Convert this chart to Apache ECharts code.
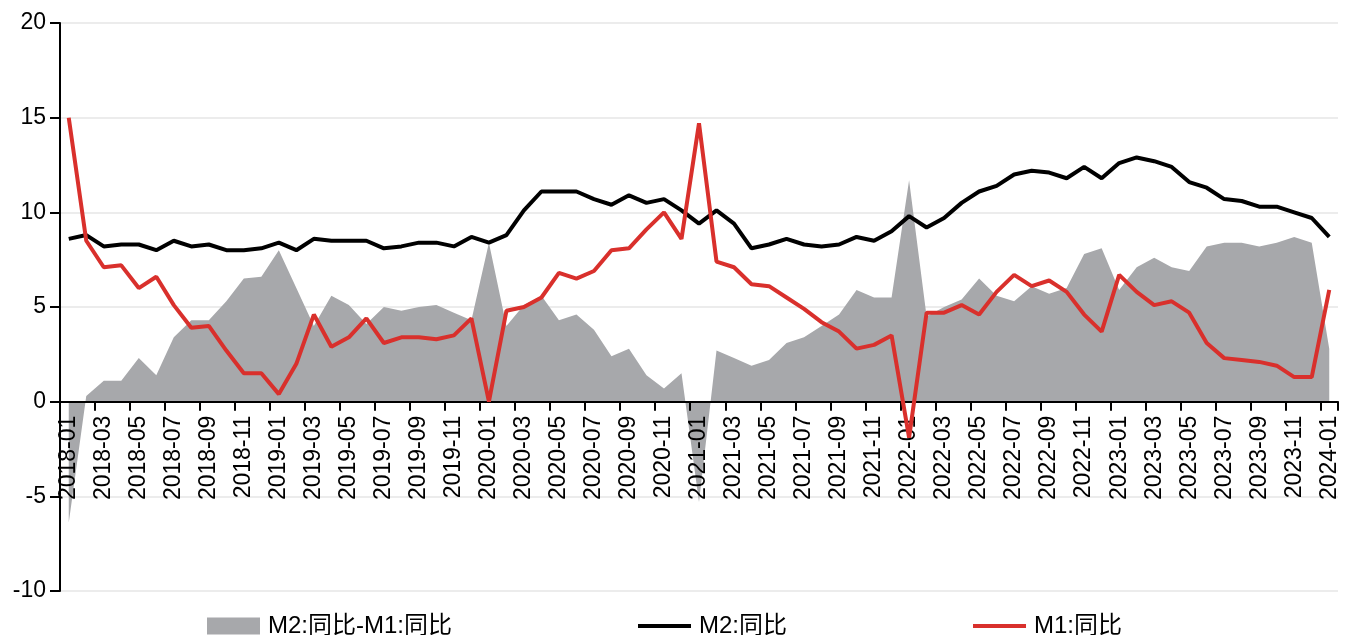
<!DOCTYPE html>
<html>
<head>
<meta charset="utf-8">
<script src="https://cdn.jsdelivr.net/npm/echarts@6/dist/echarts.min.js"></script>
<style>
  html, body { margin: 0; padding: 0; background: #fff; }
  #chart { width: 1349px; height: 635px; }
</style>
</head>
<body>
<div id="chart"></div>
<script>
// 月份
const months = [
  "2018-01","2018-02","2018-03","2018-04","2018-05","2018-06","2018-07","2018-08","2018-09","2018-10","2018-11","2018-12",
  "2019-01","2019-02","2019-03","2019-04","2019-05","2019-06","2019-07","2019-08","2019-09","2019-10","2019-11","2019-12",
  "2020-01","2020-02","2020-03","2020-04","2020-05","2020-06","2020-07","2020-08","2020-09","2020-10","2020-11","2020-12",
  "2021-01","2021-02","2021-03","2021-04","2021-05","2021-06","2021-07","2021-08","2021-09","2021-10","2021-11","2021-12",
  "2022-01","2022-02","2022-03","2022-04","2022-05","2022-06","2022-07","2022-08","2022-09","2022-10","2022-11","2022-12",
  "2023-01","2023-02","2023-03","2023-04","2023-05","2023-06","2023-07","2023-08","2023-09","2023-10","2023-11","2023-12",
  "2024-01"
];

// M2:同比
const m2 = [
  8.6, 8.8, 8.2, 8.3, 8.3, 8.0, 8.5, 8.2, 8.3, 8.0, 8.0, 8.1,
  8.4, 8.0, 8.6, 8.5, 8.5, 8.5, 8.1, 8.2, 8.4, 8.4, 8.2, 8.7,
  8.4, 8.8, 10.1, 11.1, 11.1, 11.1, 10.7, 10.4, 10.9, 10.5, 10.7, 10.1,
  9.4, 10.1, 9.4, 8.1, 8.3, 8.6, 8.3, 8.2, 8.3, 8.7, 8.5, 9.0,
  9.8, 9.2, 9.7, 10.5, 11.1, 11.4, 12.0, 12.2, 12.1, 11.8, 12.4, 11.8,
  12.6, 12.9, 12.7, 12.4, 11.6, 11.3, 10.7, 10.6, 10.3, 10.3, 10.0, 9.7,
  8.7
];

// M1:同比
const m1 = [
  15.0, 8.5, 7.1, 7.2, 6.0, 6.6, 5.1, 3.9, 4.0, 2.7, 1.5, 1.5,
  0.4, 2.0, 4.6, 2.9, 3.4, 4.4, 3.1, 3.4, 3.4, 3.3, 3.5, 4.4,
  0.0, 4.8, 5.0, 5.5, 6.8, 6.5, 6.9, 8.0, 8.1, 9.1, 10.0, 8.6,
  14.7, 7.4, 7.1, 6.2, 6.1, 5.5, 4.9, 4.2, 3.7, 2.8, 3.0, 3.5,
  -1.9, 4.7, 4.7, 5.1, 4.6, 5.8, 6.7, 6.1, 6.4, 5.8, 4.6, 3.7,
  6.7, 5.8, 5.1, 5.3, 4.7, 3.1, 2.3, 2.2, 2.1, 1.9, 1.3, 1.3,
  5.9
];

// M2:同比-M1:同比
const spread = [
  -6.4, 0.3, 1.1, 1.1, 2.3, 1.4, 3.4, 4.3, 4.3, 5.3, 6.5, 6.6,
  8.0, 6.0, 4.0, 5.6, 5.1, 4.1, 5.0, 4.8, 5.0, 5.1, 4.7, 4.3,
  8.4, 4.0, 5.1, 5.6, 4.3, 4.6, 3.8, 2.4, 2.8, 1.4, 0.7, 1.5,
  -5.3, 2.7, 2.3, 1.9, 2.2, 3.1, 3.4, 4.0, 4.6, 5.9, 5.5, 5.5,
  11.7, 4.5, 5.0, 5.4, 6.5, 5.6, 5.3, 6.1, 5.7, 6.0, 7.8, 8.1,
  5.9, 7.1, 7.6, 7.1, 6.9, 8.2, 8.4, 8.4, 8.2, 8.4, 8.7, 8.4,
  2.8
];

const yTicks = [-10, -5, 0, 5, 10, 15, 20];

const font = "'Liberation Sans', Arial, 'Noto Sans CJK SC', sans-serif";
// 图例里的线条
const lineIcon = "path://M0,0H54V4H0Z";

// 网格尺寸，用来把x轴挪到0刻度上
const gridTop = 23, gridBottom = 44, chartH = 635;
const gridH = chartH - gridTop - gridBottom;
const zeroOffset = -gridH * (0 - yTicks[0]) / (yTicks[yTicks.length - 1] - yTicks[0]);

const myChart = echarts.init(document.getElementById("chart"));

myChart.setOption({
  animation: false,
  textStyle: { fontFamily: font },
  grid: { left: 60, right: 11, top: gridTop, bottom: gridBottom, outerBoundsMode: "none", containLabel: false },
  legend: {
    left: 202,
    top: 609,
    itemGap: 186,
    itemWidth: 53,
    itemHeight: 17,
    textStyle: { fontSize: 24, color: "#000", fontFamily: font, padding: [0, 0, 0, 3] },
    data: [
      { name: "M2:同比-M1:同比", icon: "rect" },
      { name: "M2:同比", icon: lineIcon },
      { name: "M1:同比", icon: lineIcon }
    ]
  },
  xAxis: {
    type: "category",
    data: months,
    boundaryGap: true,
    z: 3,
    offset: zeroOffset,
    axisLine: { onZero: false, lineStyle: { color: "#000", width: 2 } },
    axisTick: { show: true, interval: 1, length: 9, inside: false, lineStyle: { color: "#000", width: 2 } },
    axisLabel: {
      interval: 1,
      rotate: 90,
      margin: 14,
      color: "#000",
      fontSize: 23,
      fontFamily: font
    },
    splitLine: { show: false }
  },
  yAxis: {
    type: "value",
    min: yTicks[0],
    max: yTicks[yTicks.length - 1],
    interval: 5,
    axisLine: { show: true, lineStyle: { color: "#000", width: 2 } },
    axisTick: { show: true, length: 10, lineStyle: { color: "#000", width: 2 } },
    axisLabel: { color: "#000", fontSize: 23, margin: 14, fontFamily: font },
    splitLine: { show: true, lineStyle: { color: "#ececec", width: 2 } }
  },
  series: [
    {
      name: "M2:同比-M1:同比",
      type: "line",
      data: spread,
      symbol: "none",
      z: 2,
      itemStyle: { color: "#a7a8ab" },
      lineStyle: { width: 0, color: "#a7a8ab" },
      areaStyle: { color: "#a7a8ab", opacity: 1 }
    },
    {
      name: "M2:同比",
      type: "line",
      data: m2,
      symbol: "none",
      z: 4,
      itemStyle: { color: "#000" },
      lineStyle: { width: 4, color: "#000" }
    },
    {
      name: "M1:同比",
      type: "line",
      data: m1,
      symbol: "none",
      z: 5,
      itemStyle: { color: "#d9302c" },
      lineStyle: { width: 4, color: "#d9302c" }
    }
  ]
});
</script>
</body>
</html>
